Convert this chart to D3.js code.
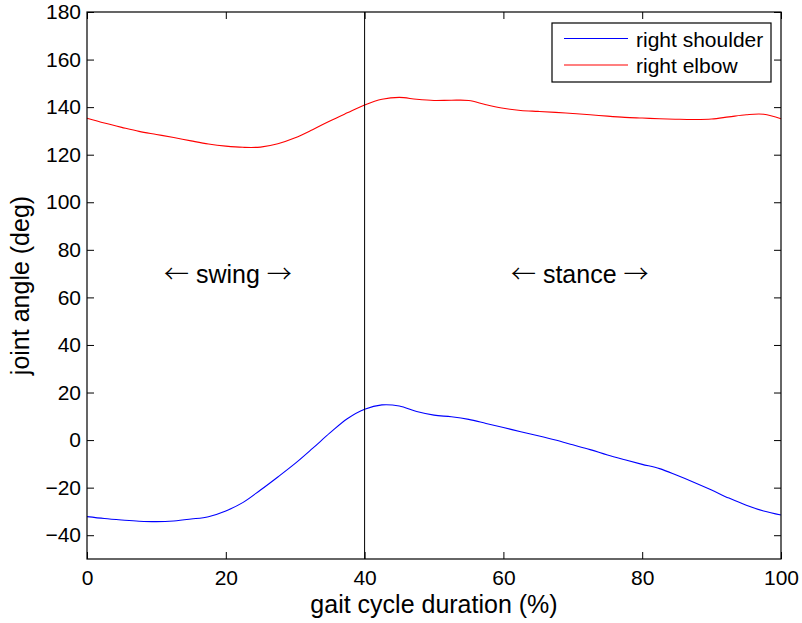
<!DOCTYPE html>
<html>
<head>
<meta charset="utf-8">
<script src="https://cdn.jsdelivr.net/npm/d3@7"></script>
<style>
  html, body { margin: 0; padding: 0; background: #fff; }
  svg { display: block; }
  text { font-family: "Liberation Sans", Arial, Helvetica, sans-serif; fill: #000; }
</style>
</head>
<body>
<svg id="chart" width="802" height="623"></svg>
<script>
// ---- data ----
const gaitPercent = [0, 2.5, 5, 7.5, 10, 12.5, 15, 17.5, 20, 22.5, 25, 27.5, 30, 32.5, 35, 37.5, 40, 42.5, 45, 47.5, 50,
  52.5, 55, 57.5, 60, 62.5, 65, 67.5, 70, 72.5, 75, 77.5, 80, 82.5, 85, 87.5, 90, 92.5, 95, 97.5, 100];
const rightShoulder = [-32.2, -33.0, -33.6, -34.1, -34.3, -34.0, -33.2, -32.2, -29.8, -26.2, -21.0, -15.5, -9.8, -3.5, 3.0, 9.0, 13.0,
  14.8, 14.3, 12.0, 10.5, 9.8, 8.7, 7.0, 5.3, 3.5, 1.8, 0.0, -2.0, -4.0, -6.3, -8.3, -10.2, -12.0, -14.8, -17.8, -21.0, -24.4, -27.4, -29.8, -31.5];
const rightElbow = [135.3, 133.3, 131.5, 129.8, 128.5, 127.2, 125.8, 124.5, 123.6, 123.1, 123.2, 124.6, 127.1, 130.5, 134.2, 137.6, 140.9,
  143.3, 144.1, 143.3, 142.8, 142.9, 142.8, 141.0, 139.5, 138.6, 138.2, 137.8, 137.3, 136.8, 136.2, 135.7, 135.4, 135.1, 134.9, 134.8, 135.0, 135.9, 136.8, 137.0, 135.1];
const seriesNames = ["right shoulder", "right elbow"];
const seriesColors = ["#0000ff", "#ff0000"];
const xTicks = [0, 20, 40, 60, 80, 100];
const yTicks = [-40, -20, 0, 20, 40, 60, 80, 100, 120, 140, 160, 180];
const phaseLine = 40;
const phaseLabels = [{word: "swing", x: 20.3, y: 66}, {word: "stance", x: 71, y: 66}];
const xLabel = "gait cycle duration (%)";
const yLabel = "joint angle (deg)";

// ---- layout ----
const svg = d3.select("#chart");
const L = 87, R = 781, T = 12, B = 559;
const x = d3.scaleLinear().domain([0, 100]).range([L, R]);
const y = d3.scaleLinear().domain([-50, 180]).range([B, T]);
const tickFont = 21, labelFont = 25;

const g = svg.append("g");

// series
const data = [rightShoulder, rightElbow];
const line = d3.line().x((d, i) => x(gaitPercent[i])).y(d => y(d)).curve(d3.curveCatmullRom.alpha(0.5));
data.forEach((vals, k) => {
  g.append("path").datum(vals).attr("d", line)
    .attr("fill", "none").attr("stroke", seriesColors[k]).attr("stroke-width", 1.1);
});

// vertical phase line
g.append("line").attr("x1", x(phaseLine)).attr("x2", x(phaseLine)).attr("y1", T).attr("y2", B)
  .attr("stroke", "#000").attr("stroke-width", 1);

// axes box
g.append("rect").attr("x", L).attr("y", T).attr("width", R - L).attr("height", B - T)
  .attr("fill", "none").attr("stroke", "#000").attr("stroke-width", 1.2);

// axes with inward ticks
const tl = 7;
const fmt = d => (d < 0 ? "\u2212" + Math.abs(d) : String(d));
const axB = d3.axisBottom(x).tickValues(xTicks).tickSize(-tl).tickPadding(11).tickFormat(fmt);
const axT = d3.axisTop(x).tickValues(xTicks).tickSize(-tl).tickFormat("");
const axL = d3.axisLeft(y).tickValues(yTicks).tickSize(-tl).tickPadding(6).tickFormat(fmt);
const axR = d3.axisRight(y).tickValues(yTicks).tickSize(-tl).tickFormat("");
function styleAxis(sel) {
  sel.select(".domain").remove();
  sel.selectAll(".tick line").attr("stroke", "#000").attr("stroke-width", 1);
  sel.selectAll(".tick text").attr("font-size", tickFont).attr("font-family", "Liberation Sans, Arial, sans-serif").attr("fill", "#000");
}
g.append("g").attr("transform", `translate(0,${B})`).call(axB).call(styleAxis);
g.append("g").attr("transform", `translate(0,${T})`).call(axT).call(styleAxis);
g.append("g").attr("transform", `translate(${L},0)`).call(axL).call(styleAxis);
g.append("g").attr("transform", `translate(${R},0)`).call(axR).call(styleAxis);

// axis labels
svg.append("text").attr("x", (L + R) / 2).attr("y", 613).attr("text-anchor", "middle")
  .attr("font-size", labelFont).text(xLabel);
svg.append("text").attr("transform", `translate(29,${(T + B) / 2}) rotate(-90)`).attr("text-anchor", "middle")
  .attr("font-size", labelFont).text(yLabel);

// phase annotations (long thin arrows)
phaseLabels.forEach(p => {
  const t = svg.append("text").attr("x", x(p.x)).attr("y", y(p.y)).attr("text-anchor", "middle")
    .attr("font-size", labelFont);
  t.append("tspan").attr("font-family", "Noto Sans CJK SC").attr("font-weight", "300").text("\u2190");
  t.append("tspan").text(" " + p.word + " ");
  t.append("tspan").attr("font-family", "Noto Sans CJK SC").attr("font-weight", "300").text("\u2192");
});

// legend
const lg = svg.append("g");
lg.append("rect").attr("x", 552).attr("y", 23).attr("width", 219).attr("height", 59)
  .attr("fill", "#fff").attr("stroke", "#000").attr("stroke-width", 1.2);
seriesNames.forEach((name, k) => {
  const yy = 38.5 + k * 26.5;
  lg.append("line").attr("x1", 564).attr("x2", 628).attr("y1", yy).attr("y2", yy)
    .attr("stroke", seriesColors[k]).attr("stroke-width", 1.1);
  lg.append("text").attr("x", 636).attr("y", yy + 8.3).attr("font-size", tickFont).text(name);
});
</script>
</body>
</html>
